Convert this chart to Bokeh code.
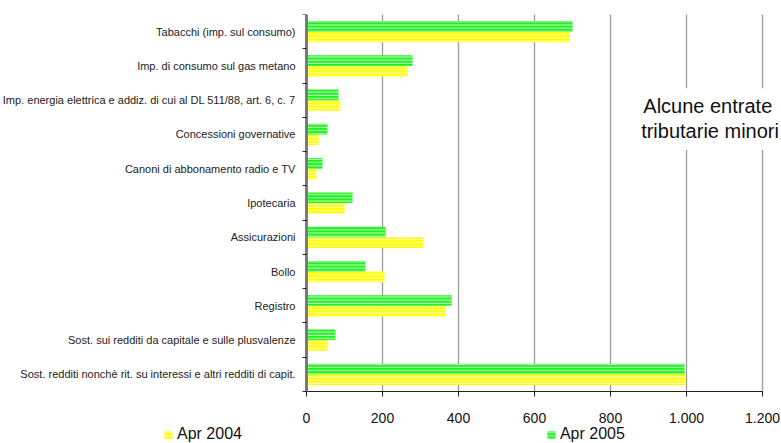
from bokeh.plotting import figure
from bokeh.models import (Range1d, FixedTicker, Legend, LegendItem, Label, BoxAnnotation,
                          ColumnDataSource)
from bokeh.embed import file_html
from bokeh.resources import INLINE

categories = [
    "Sost. redditi nonchè rit. su interessi e altri redditi di capit.",
    "Sost. sui redditi da capitale e sulle plusvalenze",
    "Registro",
    "Bollo",
    "Assicurazioni",
    "Ipotecaria",
    "Canoni di abbonamento radio e TV",
    "Concessioni governative",
    "Imp. energia elettrica e addiz. di cui al DL 511/88, art. 6, c. 7",
    "Imp. di consumo sul gas metano",
    "Tabacchi (imp. sul consumo)",
]
apr2004 = [998, 55, 366, 205, 308, 100, 26, 32, 89, 266, 693]
apr2005 = [995, 76, 382, 155, 208, 121, 42, 55, 84, 279, 700]
x_ticks = [0, 200, 400, 600, 800, 1000, 1200]
x_tick_labels = ["0", "200", "400", "600", "800", "1.000", "1.200"]
series_names = ["Apr 2004", "Apr 2005"]

n = len(categories)
centers = [i + 0.5 for i in range(n)]
bar_h = 0.31

# layout (pixels): plotting area of the original chart
W, H = 781, 443
AX_L, AX_R, AX_T, AX_B = 306, 762, 14, 391
XMAX = x_ticks[-1]
ppx = (AX_R - AX_L) / XMAX          # pixels per x unit
ppy = (AX_B - AX_T) / n             # pixels per y unit
x_range = Range1d(-AX_L / ppx, XMAX + (W - AX_R) / ppx)
y_range = Range1d(-(H - AX_B) / ppy, n)

src04 = ColumnDataSource(dict(y=[c - bar_h / 2 for c in centers], right=apr2004))
src05 = ColumnDataSource(dict(y=[c + bar_h / 2 for c in centers], right=apr2005))

p = figure(width=W, height=H, output_backend="svg", toolbar_location=None,
           x_range=x_range, y_range=y_range,
           min_border_left=0, min_border_top=AX_T, min_border_right=0, min_border_bottom=0)
p.outline_line_color = None
p.background_fill_color = "white"

r04 = p.hbar(y="y", right="right", left=0, height=bar_h, source=src04,
             fill_color="#ffff00", line_color=None,
             hatch_pattern="horizontal_line", hatch_color="#ffffa8",
             hatch_scale=3.2, hatch_weight=1.2)
r05 = p.hbar(y="y", right="right", left=0, height=bar_h, source=src05,
             fill_color="#22ee22", line_color=None,
             hatch_pattern="horizontal_line", hatch_color="#a8ffa8",
             hatch_scale=3.2, hatch_weight=1.2)

# x axis
xa = p.xaxis[0]
xa.fixed_location = 0
xa.bounds = (0, XMAX)
xa.ticker = FixedTicker(ticks=x_ticks)
xa.major_label_overrides = {t: l for t, l in zip(x_ticks, x_tick_labels)}
xa.major_label_text_font = "Liberation Sans"
xa.major_label_text_font_size = "14px"
xa.major_label_text_color = "#111111"
xa.axis_line_color = "#222222"
xa.major_tick_line_color = "#222222"
xa.major_tick_out = 5
xa.major_tick_in = 0
xa.minor_tick_line_color = None
xa.major_label_standoff = 16

# y axis
ya = p.yaxis[0]
ya.fixed_location = 0
ya.bounds = (0, n)
ya.ticker = FixedTicker(ticks=centers, minor_ticks=list(range(n + 1)))
ya.major_label_overrides = {c: cat for c, cat in zip(centers, categories)}
ya.major_label_text_font = "Liberation Sans"
ya.major_label_text_font_size = "11px"
ya.major_label_text_color = "#222222"
ya.major_tick_line_color = None
ya.major_label_standoff = 5
ya.minor_tick_line_color = "#222222"
ya.minor_tick_out = 4
ya.minor_tick_in = 0
ya.axis_line_color = "#7a7a7a"
ya.axis_line_width = 3

p.ygrid.grid_line_color = None
p.xgrid.ticker = FixedTicker(ticks=x_ticks)
p.xgrid.grid_line_color = "#9a9a9a"
p.xgrid.grid_line_width = 1.3

# hide grid lines below the x axis
p.add_layout(BoxAnnotation(top=0, fill_color="white", fill_alpha=1, line_color=None,
                           level="underlay"))

# white box behind annotation text
p.add_layout(BoxAnnotation(left=840, bottom=7.05, top=8.85,
                           fill_color="white", fill_alpha=1, line_color=None))
for txt, yv, xv in [("Alcune entrate", 8.34, 1056), ("tributarie minori", 7.615, 1062)]:
    p.add_layout(Label(x=xv, y=yv, text=txt, text_align="center", text_baseline="middle",
                       text_font="Liberation Sans", text_font_size="20px",
                       text_color="#111111"))

legend = Legend(items=[LegendItem(label=series_names[0], renderers=[r04]),
                       LegendItem(label=series_names[1], renderers=[r05])],
                orientation="horizontal", location=(163, 0),
                spacing=304, padding=0, margin=0,
                glyph_width=10, glyph_height=9, label_standoff=4, label_height=14,
                label_text_font="Liberation Sans", label_text_font_size="16px",
                label_text_color="#111111",
                border_line_color=None, background_fill_alpha=0)
p.add_layout(legend, "center")

open("out.html", "w").write(file_html(p, INLINE))
